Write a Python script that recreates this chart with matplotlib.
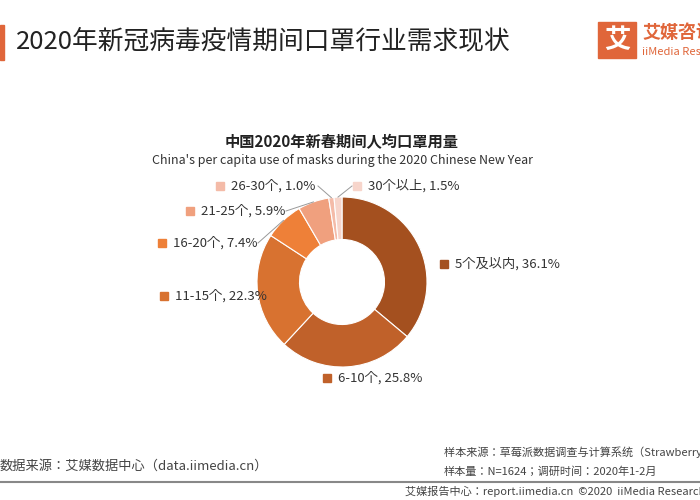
import matplotlib
matplotlib.use("Agg")
import matplotlib.pyplot as plt
from matplotlib import font_manager
from matplotlib.patches import Rectangle
import numpy as np

names = sorted(set(f.name for f in font_manager.fontManager.ttflist))
pref = [n for n in names if n == 'Noto Sans CJK SC'] or [n for n in names if 'Sans' in n and 'CJK' in n and 'SC' in n] \
    or [n for n in names if 'Sans' in n and 'CJK' in n]
plt.rcParams['font.family'] = 'sans-serif'
plt.rcParams['font.sans-serif'] = pref[:1] + ['DejaVu Sans']

categories = ["5个及以内", "6-10个", "11-15个", "16-20个", "21-25个", "26-30个", "30个以上"]
values = [36.1, 25.8, 22.3, 7.4, 5.9, 1.0, 1.5]
colors = ["#A4501F", "#C0612A", "#D87230", "#EE8038", "#F0A07E", "#F4BBA8", "#F7D5CB"]
label_pos = [(455, 264, 'left'), (338, 378, 'left'), (175, 296, 'left'), (173, 243, 'left'),
             (201, 211, 'left'), (231, 186, 'left'), (368, 186, 'left')]
W, H = 700, 500

fig = plt.figure(figsize=(7, 5), dpi=100)
def fx(x): return x / W
def fy(y): return 1 - y / H

fig.add_artist(Rectangle((0, fy(60)), fx(4), 35 / H, color="#E0663A", transform=fig.transFigure))
fig.text(fx(16), fy(41), "2020年新冠病毒疫情期间口罩行业需求现状", fontsize=18.5, va='center', color='#222222')
fig.add_artist(Rectangle((fx(598), fy(58)), fx(38), 36 / H, color="#E0663A", transform=fig.transFigure))
fig.text(fx(617), fy(40), "艾", fontsize=19, color='white', ha='center', va='center', fontweight='bold')
fig.text(fx(642), fy(32), "艾媒咨询", fontsize=13, color='#E0663A', va='center', fontweight='bold')
fig.text(fx(642), fy(52), "iiMedia Research", fontsize=8, color='#E0663A', va='center')

fig.text(fx(342), fy(142), "中国2020年新春期间人均口罩用量", fontsize=11, ha='center', va='center', fontweight='bold', color='#222222')
fig.text(fx(342), fy(160), "China's per capita use of masks during the 2020 Chinese New Year", fontsize=9, ha='center', va='center', color='#333333')

ax = fig.add_axes([fx(257), fy(367), 170 / W, 170 / H])
wedges, _ = ax.pie(values, colors=colors, startangle=90, counterclock=False,
                   wedgeprops=dict(width=0.5, edgecolor='white', linewidth=0.8))
ax.set_xlim(-1, 1); ax.set_ylim(-1, 1)
ax.set_aspect('equal')

for (x, y, ha), c, cat, v in zip(label_pos, colors, categories, values):
    fig.add_artist(Rectangle((fx(x - 15), fy(y + 4)), 8 / W, 8 / H, color=c, transform=fig.transFigure))
    fig.text(fx(x), fy(y), f"{cat}, {v}%", fontsize=9.5, va='center', ha=ha, color='#333333')

def leader(i, px, py):
    w = wedges[i]
    ang = np.deg2rad((w.theta1 + w.theta2) / 2)
    pt = ax.transData.transform((np.cos(ang), np.sin(ang)))
    x0, y0 = fig.transFigure.inverted().transform(pt)
    fig.add_artist(plt.Line2D([x0, fx(px)], [y0, fy(py)], color='#999999', lw=0.7, transform=fig.transFigure))
leader(3, 258, 243)
leader(4, 286, 211)
leader(5, 318, 186)
leader(6, 352, 186)

fig.text(fx(0), fy(466), "数据来源：艾媒数据中心（data.iimedia.cn）", fontsize=9.5, va='center', color='#444444')
fig.text(fx(444), fy(452), "样本来源：草莓派数据调查与计算系统（Strawberry Pie）", fontsize=8, va='center', color='#444444')
fig.text(fx(444), fy(472), "样本量：N=1624；调研时间：2020年1-2月", fontsize=8, va='center', color='#444444')
fig.add_artist(plt.Line2D([0, 1], [fy(482), fy(482)], color='#888888', lw=1.5, transform=fig.transFigure))
fig.text(fx(405), fy(491), "艾媒报告中心：report.iimedia.cn  ©2020  iiMedia Research", fontsize=8, va='center', color='#444444')

fig.savefig("out.png", dpi=100)
